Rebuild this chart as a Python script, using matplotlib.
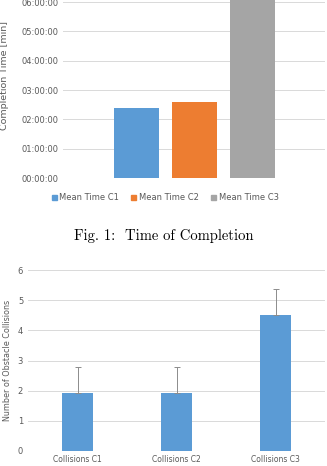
import matplotlib

matplotlib.use("Agg")
import matplotlib.pyplot as plt
from matplotlib.ticker import FuncFormatter, MultipleLocator
from matplotlib.patches import Patch

# Fig. 1 - mean completion time per condition (minutes)
time_labels = ["Mean Time C1", "Mean Time C2", "Mean Time C3"]
time_minutes = [143, 155, 390]   # C3 runs off the top of the crop
time_colors = ["#5B9BD5", "#ED7D31", "#A5A5A5"]

# Fig. 2 - obstacle collisions per condition
coll_labels = ["Collisions C1", "Collisions C2", "Collisions C3"]
coll_means = [1.93, 1.93, 4.5]
coll_err = [0.87, 0.87, 0.87]

GRID = "#D9D9D9"
TXT = "#595959"
W, H = 327, 466

fig = plt.figure(figsize=(W / 100, H / 100), dpi=100)


def style(ax):
    for s in ax.spines.values():
        s.set_visible(False)
    ax.tick_params(length=0, colors=TXT, labelsize=6)
    ax.grid(axis="y", color=GRID, linewidth=0.7)
    ax.set_axisbelow(True)


def hhmmss(v, pos):
    h = int(round(v))
    return f"{h:02d}:00:00"


# top chart: axes from y=0 px to the 00:00:00 baseline at y=178 px
ax1 = fig.add_axes([63 / W, 1 - 178 / H, (325 - 63) / W, 178 / H])
style(ax1)
hours = [m / 60 for m in time_minutes]
ax1.bar(range(3), hours, width=0.78, color=time_colors)
ax1.set_ylim(0, 6 * 178 / 176)
ax1.set_xlim(-1.27, 3.26)
ax1.yaxis.set_major_locator(MultipleLocator(1))
ax1.yaxis.set_major_formatter(FuncFormatter(hhmmss))
ax1.set_xticks([])
# label is partly cut off at the left edge in the source crop
fig.text(5 / W, 1 - 75 / H, "Completion Time [min]", rotation=90,
         ha="center", va="center", fontsize=6.8, color=TXT)

handles = [Patch(color=c) for c in time_colors]
fig.legend(handles, time_labels, loc="center", bbox_to_anchor=(0.505, 1 - 198 / H),
           ncol=3, frameon=False, fontsize=6, labelcolor=TXT,
           handlelength=0.6, handleheight=0.6, handletextpad=0.3, columnspacing=1.5)

fig.text(0.5, 1 - 236 / H, "Fig. 1:  Time of Completion", ha="center", va="center",
         fontsize=10.5, family="cmr10")

# bottom chart
ax2 = fig.add_axes([28 / W, 1 - 451 / H, (325 - 28) / W, (451 - 270) / H])
style(ax2)
ax2.bar(range(3), coll_means, width=0.31, color="#5B9BD5",
        yerr=[[0] * 3, coll_err], ecolor="#8C8C8C",
        error_kw=dict(elinewidth=0.7, capsize=2, capthick=0.7))
ax2.set_ylim(0, 6)
ax2.set_xlim(-0.5, 2.5)
ax2.yaxis.set_major_locator(MultipleLocator(1))
ax2.set_xticks(range(3))
ax2.set_xticklabels(coll_labels, fontsize=5.5)
ax2.tick_params(axis="x", pad=3)
ax2.set_ylabel("Number of Obstacle Collisions", fontsize=5.8, color=TXT, labelpad=4)

fig.savefig("out.png", dpi=100)
